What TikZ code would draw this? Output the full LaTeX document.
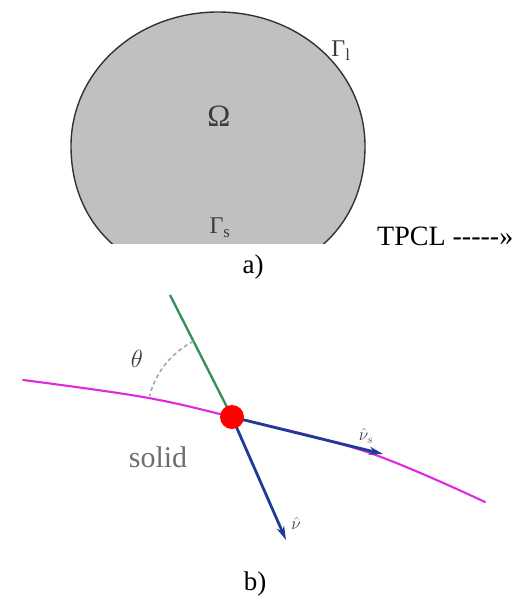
\documentclass[tikz,border=0pt]{standalone}
\usepackage{fontspec}
\setmainfont{Liberation Serif}
\newfontfamily\rawserif{Liberation Serif}
\usetikzlibrary{arrows.meta}
\definecolor{dropfill}{RGB}{192,192,192}
\definecolor{dropedge}{RGB}{50,50,50}
\definecolor{lblgray}{RGB}{60,60,60}
\definecolor{solidgray}{RGB}{110,110,110}
\definecolor{curvemag}{RGB}{225,40,225}
\definecolor{normgreen}{RGB}{55,145,95}
\definecolor{vecblue}{RGB}{30,60,150}
\tikzset{
  lbl/.style={inner sep=0pt, text=lblgray},
  caption/.style={inner sep=0pt, font=\fontsize{27}{30}\selectfont, anchor=base},
  vecarrow/.style={draw=vecblue, line width=2.8pt, -{Stealth[length=14pt,width=8pt]}},
}
\begin{document}
\begin{tikzpicture}[x=1pt,y=-1pt]
\useasboundingbox (0,0) rectangle (525,596);
% ---------- a) drop ----------
\begin{scope}
\clip (0,-10) rectangle (525,243);
\draw[fill=dropfill, draw=dropedge, line width=1.4pt]
  (218,12) .. controls (300.3,12) and (365,72) .. (365,146)
  .. controls (365,226.4) and (306.2,280) .. (218,280)
  .. controls (129.8,280) and (71,226.4) .. (71,146)
  .. controls (71,72) and (135.7,12) .. (218,12) -- cycle;
\end{scope}
\node[lbl, font=\fontsize{31}{33}\selectfont] (omega) at (219,116) {Ω};
\node[lbl, font=\fontsize{24}{26}\selectfont] (gl) at (341,51) {Γ\textsubscript{l}};
\node[lbl, font=\fontsize{24}{26}\selectfont] (gs) at (220,228) {Γ\textsubscript{s}};
\node[inner sep=0pt, anchor=base west, font=\rawserif\fontsize{28}{30}\selectfont] (tpcl) at (377,245) {TPCL -----»};
\node[caption] (capa) at (253,273) {a)};
% ---------- b) contact line ----------
\coordinate (mL) at (23,380);
\coordinate (mR) at (485,502);
\coordinate (gtop) at (170,295);
\coordinate (vtip) at (383,454);
\coordinate (ntip) at (286,540);
\coordinate (d0) at (232,417);
\draw[curvemag, line width=2.1pt, line cap=round]
  plot[smooth, tension=0.6] coordinates {(23,380) (143,397) (232,417) (367,452) (485,502)};
\draw[normgreen, line width=2.4pt] (gtop) -- (d0);
\draw[gray!70, line width=1.6pt, dash pattern=on 4pt off 3pt]
  (193.5,341.3) .. controls (171.7,352.4) and (155.6,372.3) .. (149.6,396.0);
\draw[vecarrow] (d0) -- (vtip);
\draw[vecarrow] (d0) -- (ntip);
\node[circle, fill=red, inner sep=0pt, minimum size=24pt] (dot) at (d0) {};
\node[lbl, font=\fontsize{23}{25}\selectfont] (theta) at (137,359) {$\theta$};
\node[inner sep=0pt, text=solidgray, font=\fontsize{30}{32}\selectfont] (solid) at (158,457) {solid};
\node[lbl, font=\fontsize{17}{19}\selectfont] (vs) at (366,436) {$\hat{\nu}_s$};
\node[lbl, font=\fontsize{17}{19}\selectfont] (nu) at (296,523) {$\hat{\nu}$};
\node[caption] (capb) at (255,590) {b)};
\end{tikzpicture}
\end{document}
